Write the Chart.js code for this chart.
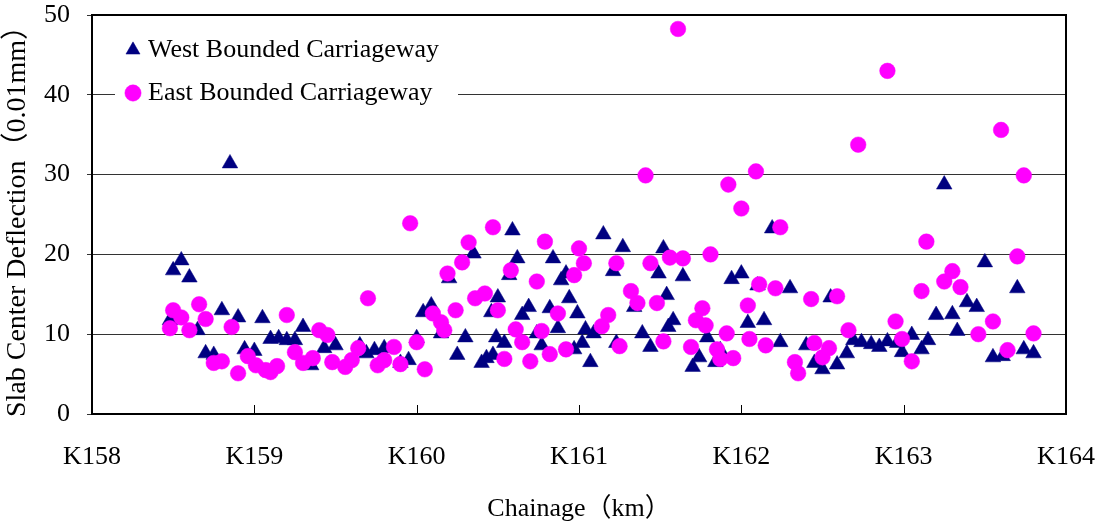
<!DOCTYPE html>
<html>
<head>
<meta charset="utf-8">
<script src="https://cdn.jsdelivr.net/npm/chart.js@4.4.1/dist/chart.umd.min.js"></script>
<style>
  body { margin: 0; background: #fff; }
  #wrap { width: 1098px; height: 525px; }
</style>
</head>
<body>
<div id="wrap"><canvas id="myChart"></canvas></div>
<script>
const xTickLabels = ['K158', 'K159', 'K160', 'K161', 'K162', 'K163', 'K164'];

const westChainage = [158.48, 158.50, 158.55, 158.60, 158.65, 158.70, 158.75, 158.80, 158.85, 158.90,
  158.94, 159.00, 159.05, 159.10, 159.15, 159.20, 159.25, 159.30, 159.35, 159.43,
  159.50, 159.65, 159.69, 159.74, 159.80, 159.90, 159.95, 160.00, 160.04, 160.09,
  160.15, 160.20, 160.25, 160.30, 160.35, 160.40, 160.43, 160.46, 160.47, 160.49,
  160.50, 160.54, 160.57, 160.59, 160.62, 160.65, 160.69, 160.74, 160.77, 160.82,
  160.84, 160.87, 160.89, 160.92, 160.94, 160.97, 160.99, 161.02, 161.04, 161.07,
  161.09, 161.15, 161.21, 161.23, 161.27, 161.34, 161.39, 161.44, 161.49, 161.52,
  161.54, 161.55, 161.58, 161.64, 161.70, 161.74, 161.79, 161.84, 161.87, 161.94,
  162.00, 162.04, 162.10, 162.14, 162.19, 162.24, 162.30, 162.40, 162.45, 162.50,
  162.55, 162.59, 162.65, 162.69, 162.74, 162.80, 162.85, 162.90, 162.96, 162.99,
  163.05, 163.11, 163.15, 163.20, 163.25, 163.30, 163.33, 163.39, 163.45, 163.50,
  163.55, 163.61, 163.70, 163.74, 163.80];
const westDeflection = [11.75, 18.0, 19.25, 17.1, 10.5, 7.6, 7.4, 13.0, 31.4, 12.1,
  8.1, 7.9, 12.0, 9.4, 9.5, 9.25, 9.25, 10.9, 6.1, 8.25,
  8.6, 8.6, 7.6, 8.0, 8.25, 6.4, 6.75, 9.5, 12.75, 13.6,
  10.1, 17.0, 7.4, 9.6, 20.1, 6.4, 7.0, 12.75, 7.4, 9.6,
  14.6, 8.9, 17.4, 23.0, 19.5, 12.4, 13.4, 10.1, 8.6, 13.25,
  19.5, 10.75, 16.75, 17.6, 14.5, 8.1, 12.6, 8.9, 10.6, 6.5,
  10.1, 22.5, 17.9, 8.9, 20.9, 13.4, 10.1, 8.4, 17.6, 20.75,
  14.9, 10.9, 11.75, 17.25, 5.9, 7.1, 9.6, 6.5, 8.0, 16.9,
  17.6, 11.4, 16.1, 11.75, 23.25, 9.0, 15.75, 8.6, 6.4, 5.6,
  14.6, 6.2, 7.6, 9.25, 9.0, 8.75, 8.4, 9.1, 8.9, 7.75,
  9.9, 8.1, 9.25, 12.4, 28.75, 12.5, 10.4, 14.0, 13.4, 19.0,
  7.1, 7.25, 15.75, 8.1, 7.6];

const eastChainage = [158.48, 158.50, 158.55, 158.60, 158.66, 158.70, 158.75, 158.80, 158.86, 158.90,
  158.96, 159.01, 159.07, 159.10, 159.14, 159.20, 159.25, 159.30, 159.36, 159.40,
  159.45, 159.48, 159.56, 159.60, 159.64, 159.70, 159.76, 159.80, 159.86, 159.90,
  159.96, 160.00, 160.05, 160.10, 160.15, 160.17, 160.19, 160.24, 160.28, 160.32,
  160.36, 160.42, 160.47, 160.50, 160.54, 160.58, 160.61, 160.65, 160.70, 160.74,
  160.77, 160.79, 160.82, 160.87, 160.92, 160.97, 161.00, 161.03, 161.14, 161.18,
  161.23, 161.25, 161.32, 161.36, 161.41, 161.44, 161.48, 161.52, 161.56, 161.61,
  161.64, 161.69, 161.72, 161.76, 161.78, 161.81, 161.85, 161.87, 161.91, 161.92,
  161.95, 162.00, 162.04, 162.05, 162.09, 162.11, 162.15, 162.21, 162.24, 162.33,
  162.35, 162.43, 162.45, 162.50, 162.54, 162.59, 162.66, 162.72, 162.90, 162.95,
  162.99, 163.05, 163.11, 163.14, 163.25, 163.30, 163.35, 163.46, 163.55, 163.60,
  163.64, 163.70, 163.74, 163.80];
const eastDeflection = [10.75, 13.0, 12.1, 10.5, 13.75, 11.9, 6.4, 6.6, 10.9, 5.1,
  7.25, 6.1, 5.5, 5.25, 6.0, 12.4, 7.75, 6.4, 7.0, 10.5,
  9.9, 6.5, 5.9, 6.75, 8.25, 14.5, 6.1, 6.75, 8.4, 6.25,
  23.9, 9.0, 5.6, 12.6, 11.5, 10.5, 17.6, 13.0, 19.0, 21.5,
  14.5, 15.1, 23.4, 13.0, 6.9, 18.0, 10.6, 9.0, 6.6, 16.6,
  10.4, 21.6, 7.5, 12.6, 8.1, 17.4, 20.75, 18.9, 11.0, 12.4,
  18.9, 8.5, 15.4, 13.9, 29.9, 18.9, 13.9, 9.1, 19.6, 48.25,
  19.5, 8.4, 11.75, 13.25, 11.1, 20.0, 8.1, 6.9, 10.1, 28.75,
  7.0, 25.75, 13.6, 9.4, 30.4, 16.25, 8.6, 15.75, 23.4, 6.5,
  5.1, 14.4, 8.9, 7.1, 8.25, 14.75, 10.5, 33.75, 43.0, 11.6,
  9.4, 6.6, 15.4, 21.6, 16.6, 17.9, 15.9, 10.0, 11.6, 35.6,
  8.0, 19.75, 29.9, 10.1];

const toPoints = (xs, ys) => xs.map((x, i) => ({ x: x, y: ys[i] }));

const serif = "'Liberation Serif', 'Times New Roman', 'Noto Sans CJK SC', serif";

// frame, inward x ticks and the white legend box over the gridline
const framePlugin = {
  id: 'frame',
  afterLayout(chart) {
    const ca = chart.chartArea;
    chart.legend.left = ca.left + 22;
    chart.legend.top = ca.top + 5;
  },
  afterDraw(chart) {
    const { ctx, chartArea: ca } = chart;
    const xs = chart.scales.x;
    ctx.save();
    ctx.strokeStyle = '#000';
    ctx.lineWidth = 1;
    xs.ticks.forEach(t => {
      const px = Math.round(xs.getPixelForValue(t.value)) + 0.5;
      ctx.beginPath();
      ctx.moveTo(px, ca.bottom);
      ctx.lineTo(px, ca.bottom - 9);
      ctx.stroke();
    });
    ctx.lineWidth = 2;
    ctx.strokeRect(ca.left, ca.top, ca.right - ca.left, ca.bottom - ca.top);
    ctx.fillStyle = '#fff';
    ctx.fillRect(ca.left + 23, ca.top + 12, 343, 88);
    ctx.restore();
    chart.legend.draw();
  }
};

const noOverflow = (scale) => {
  scale.paddingTop = 0;
  scale.paddingBottom = 0;
  scale.paddingLeft = 0;
  scale.paddingRight = 0;
};

const ctx = document.getElementById('myChart');

new Chart(ctx, {
  type: 'scatter',
  data: {
    datasets: [{
      label: 'West Bounded Carriageway',
      data: toPoints(westChainage, westDeflection),
      pointStyle: 'triangle',
      pointRadius: 9,
      backgroundColor: '#000080',
      borderColor: '#000080',
      borderWidth: 0.5,
      order: 1
    }, {
      label: 'East Bounded Carriageway',
      data: toPoints(eastChainage, eastDeflection),
      pointStyle: 'circle',
      pointRadius: 7.8,
      backgroundColor: '#ff00ff',
      borderColor: '#ff00ff',
      borderWidth: 0.5,
      order: 0
    }]
  },
  options: {
    responsive: true,
    maintainAspectRatio: false,
    animation: false,
    layout: { padding: { top: 15, right: 32, left: 0, bottom: 0 } },
    scales: {
      x: {
        type: 'linear',
        min: 158,
        max: 164,
        afterFit(scale) { scale.height = 111; noOverflow(scale); },
        ticks: {
          stepSize: 1,
          padding: 28,
          color: '#000',
          font: { family: serif, size: 26 },
          callback: (v) => xTickLabels[Math.round(v - 158)]
        },
        grid: { display: false, drawTicks: false },
        border: { display: false },
        title: {
          display: true,
          text: 'Chainage（km）',
          color: '#000',
          font: { family: serif, size: 26 },
          padding: { top: 0, bottom: 0 }
        }
      },
      y: {
        min: 0,
        max: 50,
        afterFit(scale) { scale.width = 92; noOverflow(scale); },
        ticks: {
          stepSize: 10,
          padding: 17,
          color: '#000',
          font: { family: serif, size: 26 }
        },
        grid: { color: '#333', lineWidth: 1, tickLength: 5 },
        border: { display: false },
        title: {
          display: true,
          text: 'Slab Center Deflection（0.01mm）',
          color: '#000',
          font: { family: serif, size: 28 },
          padding: { top: 1, bottom: 0 }
        }
      }
    },
    plugins: {
      tooltip: { enabled: false },
      legend: {
        position: 'chartArea',
        align: 'start',
        labels: {
          usePointStyle: true,
          boxWidth: 4,
          boxHeight: 11.5,
          padding: 17,
          color: '#000',
          font: { family: serif, size: 26 },
          sort: (a, b) => a.datasetIndex - b.datasetIndex
        }
      }
    }
  },
  plugins: [framePlugin]
});
</script>
</body>
</html>
